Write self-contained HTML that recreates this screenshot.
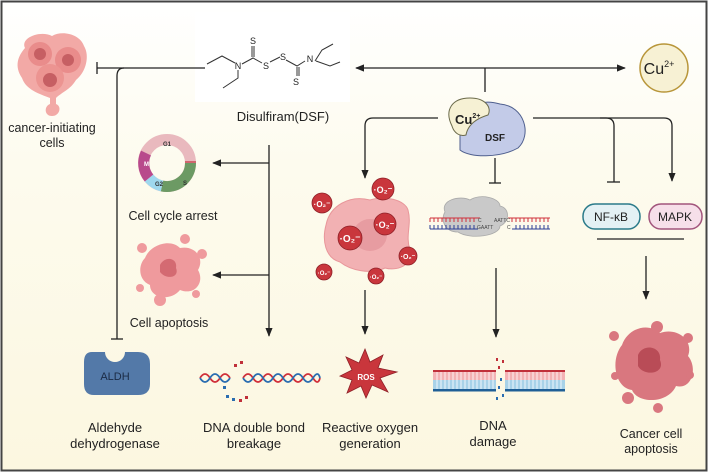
<!DOCTYPE html>
<html><head><meta charset="utf-8"><style>
html,body{margin:0;padding:0;width:708px;height:472px;overflow:hidden;}
svg{display:block;font-family:"Liberation Sans",sans-serif;}
</style></head><body>
<svg width="708" height="472" viewBox="0 0 708 472" xmlns="http://www.w3.org/2000/svg">
<defs>
<linearGradient id="bg" x1="0" y1="0" x2="0" y2="1">
<stop offset="0" stop-color="#ffffff"/><stop offset="0.35" stop-color="#fdfbee"/><stop offset="1" stop-color="#fcf7e0"/>
</linearGradient>
<marker id="ah" viewBox="0 0 10 10" refX="9" refY="5" markerWidth="7" markerHeight="7" orient="auto-start-reverse"><path d="M0,1 L10,5 L0,9 z" fill="#222"/></marker>
</defs>
<rect x="1.5" y="1.5" width="705" height="469" fill="url(#bg)" stroke="#444" stroke-width="2"/>
<rect x="195" y="12" width="155" height="90" fill="#fff"/>

<!-- DSF molecule -->
<g stroke="#333" stroke-width="1" fill="none">
<path d="M207,64 L222,56 L235,63"/><path d="M238,70 L238,78 L223,88"/>
<path d="M242,64 L253,58 L262,63"/><path d="M252,57 L252,46 M254,57 L254,46"/>
<path d="M270,62 L280,57"/><path d="M286,60 L297,66 L305,61"/><path d="M297,67 L297,76 M299,67 L299,76"/>
<path d="M315,61 L322,50 L333,44 M316,61 L330,66 L340,62"/>
</g>
<g font-size="9" fill="#222" text-anchor="middle">
<text x="238" y="69">N</text><text x="253" y="44">S</text><text x="266" y="69">S</text><text x="283" y="60">S</text><text x="310" y="62">N</text><text x="296" y="85">S</text>
</g>
<text x="283" y="121" font-size="13" text-anchor="middle" fill="#222">Disulfiram(DSF)</text>

<!-- cancer-initiating cells -->
<g>
<path d="M25,48 C20,38 40,30 52,36 C62,30 80,34 84,46 C90,56 86,72 76,80 C70,90 62,92 56,98 L56,104 C62,106 60,116 52,116 C44,116 44,106 50,104 L50,98 C40,94 26,90 22,78 C14,66 18,56 25,48 z" fill="#f2a9a6"/>
<circle cx="40" cy="54" r="12" fill="#e98c8b"/><circle cx="68" cy="60" r="13" fill="#e98c8b"/><circle cx="50" cy="78" r="14" fill="#ec9491"/>
<circle cx="40" cy="54" r="6" fill="#c65f63"/><circle cx="68" cy="60" r="6" fill="#c65f63"/><circle cx="50" cy="80" r="7" fill="#c65f63"/>
</g>
<text x="52" y="132" font-size="12.5" text-anchor="middle" fill="#222">cancer-initiating</text>
<text x="52" y="147" font-size="12.5" text-anchor="middle" fill="#222">cells</text>

<!-- left connectors -->
<g stroke="#222" stroke-width="1.3" fill="none">
<path d="M205,68 L97,68"/><path d="M97,62 L97,74"/>
<path d="M124,68 Q117,68 117,76 L117,339"/><path d="M111,339 L123,339"/>
<path d="M269,145 L269,336" marker-end="url(#ah)"/>
<path d="M269,163 L213,163" marker-end="url(#ah)"/>
<path d="M269,275 L213,275" marker-end="url(#ah)"/>
<path d="M356,68 L625,68" marker-end="url(#ah)" marker-start="url(#ah)"/>
<path d="M485,68 L485,92"/>
<path d="M438,118 L373,118 Q365,118 365,126 L365,178" marker-end="url(#ah)"/>
<path d="M495,158 L495,183"/><path d="M489,183 L501,183"/>
<path d="M533,118 L606,118 Q614,118 614,126 L614,182"/><path d="M607,182 L620,182"/>
<path d="M600,118 L664,118 Q672,118 672,126 L672,181" marker-end="url(#ah)"/>
<path d="M597,239 L684,239"/>
<path d="M646,256 L646,299" marker-end="url(#ah)"/>
<path d="M365,290 L365,334" marker-end="url(#ah)"/>
<path d="M496,268 L496,337" marker-end="url(#ah)"/>
</g>

<!-- Cu2+ -->
<circle cx="664" cy="68" r="24" fill="#f7f1d4" stroke="#b8963a" stroke-width="1.5"/>
<text x="659" y="74" font-size="16" text-anchor="middle" fill="#222">Cu<tspan font-size="9" dy="-7">2+</tspan></text>

<!-- Cu DSF complex -->
<path d="M460,135 C455,120 470,95 500,104 C525,106 532,135 518,148 C500,158 470,158 460,150 z" fill="#c3cbe8" stroke="#4f5f8e" stroke-width="1"/>
<path d="M452,126 C444,110 452,98 470,98 C486,98 492,108 488,115 C478,118 468,124 466,135 C460,137 454,133 452,126 z" fill="#f6f1d4" stroke="#6b6a4a" stroke-width="1"/>
<text x="455" y="124" font-size="13" font-weight="bold" fill="#222">Cu<tspan font-size="7" dy="-6">2+</tspan></text>
<text x="495" y="141" font-size="10" font-weight="bold" fill="#222" text-anchor="middle">DSF</text>

<!-- NF-kB MAPK -->
<rect x="583" y="204" width="57" height="25" rx="12" fill="#e4f1f4" stroke="#2b7b8a" stroke-width="1.5"/>
<text x="611" y="221" font-size="12" text-anchor="middle" fill="#222">NF-κB</text>
<rect x="649" y="204" width="53" height="25" rx="12" fill="#f6dfe9" stroke="#a2557c" stroke-width="1.5"/>
<text x="675" y="221" font-size="12" text-anchor="middle" fill="#222">MAPK</text>

<!-- cell cycle ring -->
<g transform="translate(167,163)">
<circle r="23.5" fill="none" stroke="#e9b9be" stroke-width="11"/>
<path d="M23.5,0 A23.5,23.5 0 0 1 -5,23" fill="none" stroke="#6c9a64" stroke-width="11"/>
<path d="M-5,23 A23.5,23.5 0 0 1 -18,15" fill="none" stroke="#9fd8ee" stroke-width="11"/>
<path d="M-18,15 A23.5,23.5 0 0 1 -21,-10" fill="none" stroke="#b84a8c" stroke-width="11"/>
<line x1="18" y1="-1" x2="29" y2="-1" stroke="#c0303a" stroke-width="1.2"/>
<text x="0" y="-17" font-size="6" font-weight="bold" text-anchor="middle" fill="#333">G1</text>
<text x="-23" y="3" font-size="6" font-weight="bold" fill="#fff">M</text>
<text x="-12" y="23" font-size="6" font-weight="bold" fill="#333">G2</text>
<text x="16" y="22" font-size="6" font-weight="bold" fill="#333">S</text>
</g>
<text x="173" y="220" font-size="12.5" text-anchor="middle" fill="#222">Cell cycle arrest</text>

<!-- cell apoptosis -->
<g fill="#ef9a9d">
<path d="M145,258 C150,245 170,238 180,248 C195,245 205,258 198,270 C205,282 195,296 180,290 C170,302 150,298 150,285 C138,280 138,265 145,258 z"/>
<circle cx="142" cy="248" r="5"/><circle cx="185" cy="239" r="5"/><circle cx="202" cy="254" r="5"/><circle cx="160" cy="300" r="6"/><circle cx="196" cy="294" r="4"/><circle cx="140" cy="288" r="4"/>
</g>
<path d="M160,265 C165,255 178,258 176,268 C180,278 166,280 160,272 z" fill="#d46a72"/>
<text x="169" y="327" font-size="12.5" text-anchor="middle" fill="#222">Cell apoptosis</text>

<!-- ALDH -->
<path d="M92,352 L105,352 A10,10 0 0 0 125,352 L138,352 Q150,352 150,364 L150,384 Q150,395 138,395 L94,395 Q84,395 84,384 L84,362 Q84,352 92,352 z" fill="#5379a8"/>
<text x="115" y="380" font-size="11" text-anchor="middle" fill="#1b2b45">ALDH</text>
<text x="115" y="432" font-size="13" text-anchor="middle" fill="#222">Aldehyde</text>
<text x="115" y="448" font-size="13" text-anchor="middle" fill="#222">dehydrogenase</text>

<!-- DNA double bond breakage -->
<g fill="none" stroke-width="1.8">
<path d="M200,378 q5,-8 10,0 t10,0 t10,0" stroke="#d0303a"/><path d="M200,378 q5,8 10,0 t10,0 t10,0" stroke="#2a6db0"/>
<path d="M243,378 q5,-8 10,0 t10,0 t10,0 t10,0 t10,0 t10,0 t10,0 t7,0" stroke="#d0303a"/>
<path d="M243,378 q5,8 10,0 t10,0 t10,0 t10,0 t10,0 t10,0 t10,0 t7,0" stroke="#2a6db0"/>
</g>
<g fill="#c0303a"><rect x="234" y="364" width="3" height="3"/><rect x="240" y="361" width="3" height="3"/><rect x="239" y="399" width="3" height="3"/><rect x="245" y="396" width="3" height="3"/></g>
<g fill="#2a6db0"><rect x="226" y="395" width="3" height="3"/><rect x="232" y="398" width="3" height="3"/><rect x="223" y="386" width="3" height="3"/></g>
<text x="254" y="432" font-size="13" text-anchor="middle" fill="#222">DNA double bond</text>
<text x="254" y="448" font-size="13" text-anchor="middle" fill="#222">breakage</text>

<!-- cell with O2 -->
<path d="M326,225 C330,205 350,195 370,200 C385,195 405,200 408,210 C412,225 405,235 410,250 C415,262 400,272 385,268 C370,275 350,270 340,262 C325,258 322,240 326,225 z" fill="#f2b1b3" stroke="#e8969a" stroke-width="1"/>
<ellipse cx="370" cy="235" rx="17" ry="16" fill="#e79ca1"/>
<g fill="#c9363c" stroke="#8e2027" stroke-width="0.8">
<circle cx="383" cy="189" r="11"/><circle cx="322" cy="203" r="10"/><circle cx="385" cy="224" r="11"/><circle cx="350" cy="238" r="12"/><circle cx="408" cy="256" r="9"/><circle cx="324" cy="272" r="8"/><circle cx="376" cy="276" r="8"/>
</g>
<g fill="#fff" font-weight="bold" text-anchor="middle">
<text x="383" y="193" font-size="9">·O₂⁻</text><text x="322" y="207" font-size="8">·O₂⁻</text><text x="385" y="228" font-size="9">·O₂⁻</text><text x="350" y="242" font-size="10">·O₂⁻</text><text x="408" y="259" font-size="7">·O₂⁻</text><text x="324" y="275" font-size="6">·O₂⁻</text><text x="376" y="279" font-size="6">·O₂⁻</text>
</g>

<!-- ROS -->
<polygon points="365,349 370,362 383,355 378,368 397,372 380,378 388,392 372,385 366,398 361,386 347,393 352,380 340,376 352,370 346,357 359,363" fill="#c9363c" stroke="#8e2027" stroke-width="0.8"/>
<text x="366" y="380" font-size="8" font-weight="bold" fill="#fff" text-anchor="middle">ROS</text>
<text x="370" y="432" font-size="13" text-anchor="middle" fill="#222">Reactive oxygen</text>
<text x="370" y="448" font-size="13" text-anchor="middle" fill="#222">generation</text>

<!-- DNA with cloud -->
<path d="M445,212 C440,200 460,195 470,200 C480,193 500,198 500,206 C510,208 510,222 500,226 C500,236 470,240 458,232 C445,232 440,220 445,212 z" fill="#c9c9c9" stroke="#aaa" stroke-width="0.8"/>
<g stroke-width="1">
<line x1="430" y1="218" x2="480" y2="218" stroke="#d0303a"/><line x1="508" y1="218" x2="550" y2="218" stroke="#d0303a"/>
<line x1="430" y1="229" x2="478" y2="229" stroke="#2a3d96"/><line x1="512" y1="229" x2="550" y2="229" stroke="#2a3d96"/>
<path d="M430,218 v4 M434,218 v4 M438,218 v4 M442,218 v4 M446,218 v4 M450,218 v4 M454,218 v4 M458,218 v4 M462,218 v4 M466,218 v4 M470,218 v4 M474,218 v4 M512,218 v4 M516,218 v4 M520,218 v4 M524,218 v4 M528,218 v4 M532,218 v4 M536,218 v4 M540,218 v4 M544,218 v4 M548,218 v4" stroke="#d0303a"/>
<path d="M430,229 v-4 M434,229 v-4 M438,229 v-4 M442,229 v-4 M446,229 v-4 M450,229 v-4 M454,229 v-4 M458,229 v-4 M462,229 v-4 M466,229 v-4 M470,229 v-4 M474,229 v-4 M516,229 v-4 M520,229 v-4 M524,229 v-4 M528,229 v-4 M532,229 v-4 M536,229 v-4 M540,229 v-4 M544,229 v-4 M548,229 v-4" stroke="#2a3d96"/>
</g>
<g font-size="5" fill="#444"><text x="478" y="222">C</text><text x="494" y="222">AATTC</text><text x="477" y="229">GAATT</text><text x="507" y="229">C</text></g>

<!-- DNA damage ladder -->
<rect x="433" y="370" width="63" height="2.5" fill="#c0303a"/><rect x="505" y="370" width="60" height="2.5" fill="#c0303a"/>
<rect x="433" y="389" width="63" height="2.5" fill="#1f5f96"/><rect x="505" y="389" width="60" height="2.5" fill="#1f5f96"/>
<rect x="433" y="372" width="63" height="8" fill="#f3b2b4"/><rect x="505" y="372" width="60" height="8" fill="#f3b2b4"/>
<rect x="433" y="380" width="63" height="9" fill="#a8d2e8"/><rect x="505" y="380" width="60" height="9" fill="#a8d2e8"/>
<g stroke="#fff" stroke-width="0.8"><path d="M437,372v17 M441,372v17 M445,372v17 M449,372v17 M453,372v17 M457,372v17 M461,372v17 M465,372v17 M469,372v17 M473,372v17 M477,372v17 M481,372v17 M485,372v17 M489,372v17 M493,372v17 M509,372v17 M513,372v17 M517,372v17 M521,372v17 M525,372v17 M529,372v17 M533,372v17 M537,372v17 M541,372v17 M545,372v17 M549,372v17 M553,372v17 M557,372v17 M561,372v17"/></g>
<g fill="#c0303a"><rect x="496" y="358" width="2" height="3"/><rect x="502" y="360" width="2" height="3"/><rect x="498" y="366" width="2" height="3"/></g>
<g fill="#2a6db0"><rect x="500" y="378" width="2" height="3"/><rect x="498" y="386" width="2" height="3"/><rect x="502" y="394" width="2" height="3"/><rect x="496" y="397" width="2" height="3"/></g>
<text x="493" y="430" font-size="13" text-anchor="middle" fill="#222">DNA</text>
<text x="493" y="446" font-size="13" text-anchor="middle" fill="#222">damage</text>

<!-- Cancer cell apoptosis -->
<g fill="#d9777f">
<path d="M622,345 C628,328 648,322 660,333 C677,327 694,340 688,356 C698,368 692,390 676,386 C668,404 638,404 632,390 C615,388 610,360 622,345 z"/>
<circle cx="614" cy="336" r="5"/><circle cx="657" cy="327" r="6"/><circle cx="688" cy="338" r="5"/><circle cx="690" cy="375" r="4"/><circle cx="628" cy="398" r="6"/><circle cx="658" cy="408" r="5"/><circle cx="615" cy="376" r="4"/>
</g>
<path d="M638,355 C643,343 662,346 660,360 C666,374 644,377 638,366 z" fill="#b94c57"/>
<text x="651" y="438" font-size="12.5" text-anchor="middle" fill="#222">Cancer cell</text>
<text x="651" y="453" font-size="12.5" text-anchor="middle" fill="#222">apoptosis</text>
</svg>
</body></html>
